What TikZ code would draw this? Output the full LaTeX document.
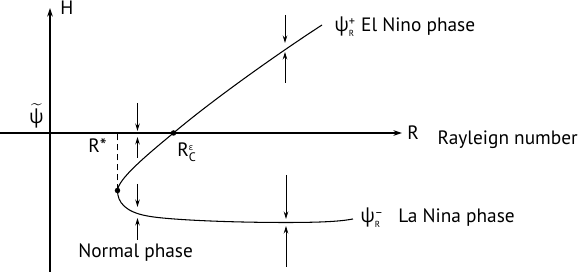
\documentclass[tikz,border=0pt]{standalone}
\usepackage{amsmath}
\usepackage{fontspec}
\setmainfont{PT Sans}
\newfontfamily\gr{Open Sans}
\usetikzlibrary{arrows.meta, positioning}
\tikzset{
	axis/.style  ={-{Stealth[length=1.7mm, width=1.1mm]}, line width=0.6pt},
	branch/.style={line width=0.6pt},
	stab/.style  ={-{Stealth[length=1.5mm, width=0.9mm]}, line width=0.5pt},
	dot/.style   ={circle, fill=black, inner sep=0pt, minimum size=1.1mm},
	lbl/.style   ={inner sep=0pt},
}
\newcommand{\psiR}[1]{{\gr ψ}$^{\text{\scriptsize #1}}_{\text{\tiny R}}$}

\begin{document}
\begin{tikzpicture}[font=\fontsize{11}{13}\selectfont]
	\useasboundingbox (-1.0,-2.78) rectangle (10.62,2.66);
	% axes
	\draw[axis] (-1.0,0) -- (7.04,0);
	\draw[axis] (0,-2.78) -- (0,2.5);
	\node[lbl, anchor=base west] (H) at (0.2,2.36) {H};
	\node[lbl, anchor=base west] (R) at (7.14,-0.13) {R};
	\node[lbl, anchor=base west, right=0.36cm of R.base east] (Rname) {Rayleign number};
	\node[lbl] (psit) at (-0.27,0.34) {$\widetilde{\text{\gr ψ}}$};
	% equilibrium branches
	\coordinate (tp) at (1.35,-1.15);
	\coordinate (rc) at (2.47,0);
	\draw[branch] (5.44,2.16) .. controls (4.5,1.55) and (3.2,0.62) .. (rc)
		.. controls (1.95,-0.43) and (1.36,-0.92) .. (tp)
		.. controls (1.35,-1.38) and (1.5,-1.58) .. (1.95,-1.66)
		.. controls (2.3,-1.73) and (3.5,-1.79) .. (4.72,-1.79)
		.. controls (5.4,-1.79) and (5.8,-1.77) .. (6.06,-1.72);
	\draw[branch, dash pattern=on 1.2mm off 0.8mm] (tp) -- (tp |- rc);
	\node[dot] (tpdot) at (tp) {};
	\node[dot] (rcdot) at (rc) {};
	\node[lbl, anchor=base west] (Rstar) at (0.76,-0.4) {R*};
	\node[lbl, anchor=base west] (Rc) at (2.54,-0.48) {R$^{\text{\tiny\gr ε}}_{\text{\scriptsize C}}$};
	\node[lbl, anchor=base west] (elnino) at (5.68,2.02) {\psiR{+} El Nino phase};
	\node[lbl, anchor=base west] (psim) at (6.2,-1.8) {\psiR{--}};
	\node[lbl, anchor=base west] (lanina) at (6.96,-1.8) {La Nina phase};
	\node[lbl, anchor=base west] (normal) at (0.56,-2.5) {Normal phase};
	% stability arrows
	\draw[stab] (1.75,0.6) -- (1.75,0.04);
	\draw[stab] (1.75,-0.5) -- (1.75,-0.08);
	\draw[stab] (1.75,-1.02) -- (1.75,-1.48);
	\draw[stab] (1.75,-2.14) -- (1.75,-1.7);
	\draw[stab] (4.7,2.36) -- (4.7,1.8);
	\draw[stab] (4.7,1.0) -- (4.7,1.62);
	\draw[stab] (4.72,-0.84) -- (4.72,-1.72);
	\draw[stab] (4.72,-2.68) -- (4.72,-1.86);
\end{tikzpicture}
\end{document}
